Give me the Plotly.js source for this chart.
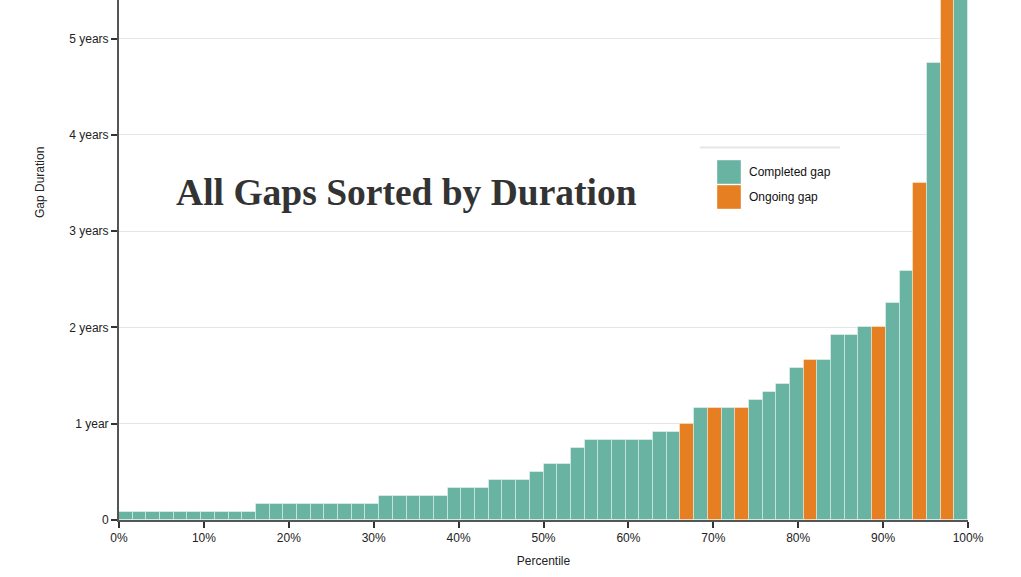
<!DOCTYPE html>
<html>
<head>
<meta charset="utf-8">
<script src="https://cdn.plot.ly/plotly-3.0.1.min.js"></script>
<style>
  html, body { margin: 0; padding: 0; background: #fff; }
  #chart { width: 1021px; height: 577px; }
</style>
</head>
<body>
<div id="chart"></div>
<script>
// gap durations in months, sorted ascending (last two run off the top of the chart)
var gapMonths = [
  1, 1, 1, 1, 1, 1, 1, 1, 1, 1,
  2, 2, 2, 2, 2, 2, 2, 2, 2,
  3, 3, 3, 3, 3,
  4, 4, 4,
  5, 5, 5,
  6,
  7, 7,
  9,
  10, 10, 10, 10, 10,
  11, 11,
  12,
  14, 14, 14, 14,
  15, 16, 17, 19,
  20, 20,
  23, 23,
  24, 24,
  27, 31, 42, 57, 75, 100
];
// 1 = ongoing gap, 0 = completed gap
var ongoing = [
  0, 0, 0, 0, 0, 0, 0, 0, 0, 0,
  0, 0, 0, 0, 0, 0, 0, 0, 0,
  0, 0, 0, 0, 0,
  0, 0, 0,
  0, 0, 0,
  0,
  0, 0,
  0,
  0, 0, 0, 0, 0,
  0, 0,
  1,
  0, 1, 0, 1,
  0, 0, 0, 0,
  1, 0,
  0, 0,
  0, 1,
  0, 0, 1, 0, 1, 0
];
var yTickVals = [0, 1, 2, 3, 4, 5];
var yTickText = ['0', '1 year', '2 years', '3 years', '4 years', '5 years'];
var xTickVals = [0, 10, 20, 30, 40, 50, 60, 70, 80, 90, 100];
var xTickText = ['0%', '10%', '20%', '30%', '40%', '50%', '60%', '70%', '80%', '90%', '100%'];
var legendNames = ['Completed gap', 'Ongoing gap'];

var teal = '#69b3a2';
var orange = '#e67e22';

var n = gapMonths.length;
var pct = [], years = [], colors = [];
for (var i = 0; i < n; i++) {
  pct.push((i + 0.5) * 100 / n);
  years.push(gapMonths[i] / 12);
  colors.push(ongoing[i] ? orange : teal);
}

// plot area in pixels, used to place the hand made legend and y title
var W = 1021, H = 577;
var mL = 119, mR = 53, mT = 0, mB = 57;
function px(x) { return (x - mL) / (W - mL - mR); }
function py(y) { return 1 - (y - mT) / (H - mT - mB); }

var trace = {
  type: 'bar',
  x: pct,
  y: years,
  width: 100 / n,
  marker: {
    color: colors,
    line: { color: 'rgba(255,255,255,0.4)', width: 1 }
  },
  hovertemplate: '%{x:.0f}%<br>%{y:.2f} years<extra></extra>',
  showlegend: false
};

var layout = {
  width: W,
  height: H,
  margin: { l: mL, r: mR, t: mT, b: mB },
  paper_bgcolor: '#fff',
  plot_bgcolor: '#fff',
  font: { family: 'Liberation Sans, Arial, sans-serif', size: 12, color: '#222' },
  bargap: 0,
  title: {
    text: 'All Gaps Sorted by Duration',
    font: { family: 'Liberation Serif, Times New Roman, serif', size: 37.5, weight: 'bold', color: '#333' },
    xref: 'container', yref: 'container',
    x: 0.398, y: 0.667,
    xanchor: 'center', yanchor: 'middle'
  },
  xaxis: {
    range: [0, 100],
    tickvals: xTickVals,
    ticktext: xTickText,
    ticks: 'outside', ticklen: 6, tickwidth: 2, tickcolor: '#333',
    showline: true, linecolor: '#555', linewidth: 2,
    showgrid: false, zeroline: false,
    title: { text: 'Percentile', standoff: 12, font: { size: 12, color: '#222' } },
    fixedrange: true
  },
  yaxis: {
    range: [0, 5.4],
    tickvals: yTickVals,
    ticktext: yTickText,
    ticks: 'outside', ticklen: 6, tickwidth: 2, tickcolor: '#333',
    showline: true, linecolor: '#555', linewidth: 2,
    showgrid: true, gridcolor: '#e6e6e6', gridwidth: 1,
    zeroline: false,
    fixedrange: true
  },
  shapes: [
    { type: 'line', xref: 'paper', yref: 'paper',
      x0: px(700), x1: px(840), y0: py(147.5), y1: py(147.5),
      line: { color: '#e6e6e6', width: 2 } },
    { type: 'rect', xref: 'paper', yref: 'paper',
      x0: px(717), x1: px(741), y0: py(184), y1: py(160),
      fillcolor: teal, line: { color: 'rgba(255,255,255,0.4)', width: 1 } },
    { type: 'rect', xref: 'paper', yref: 'paper',
      x0: px(717), x1: px(741), y0: py(209), y1: py(185),
      fillcolor: orange, line: { color: 'rgba(255,255,255,0.4)', width: 1 } }
  ],
  annotations: [
    { xref: 'paper', yref: 'paper', x: px(747), y: py(172),
      xanchor: 'left', yanchor: 'middle', showarrow: false,
      text: legendNames[0], font: { size: 12, color: '#111' } },
    { xref: 'paper', yref: 'paper', x: px(747), y: py(197),
      xanchor: 'left', yanchor: 'middle', showarrow: false,
      text: legendNames[1], font: { size: 12, color: '#111' } },
    { xref: 'paper', yref: 'paper', x: px(40), y: py(183),
      xanchor: 'center', yanchor: 'middle', showarrow: false, textangle: -90,
      text: 'Gap Duration', font: { size: 12, color: '#222' } }
  ]
};

Plotly.newPlot('chart', [trace], layout, { displayModeBar: false, responsive: false });
</script>
</body>
</html>
